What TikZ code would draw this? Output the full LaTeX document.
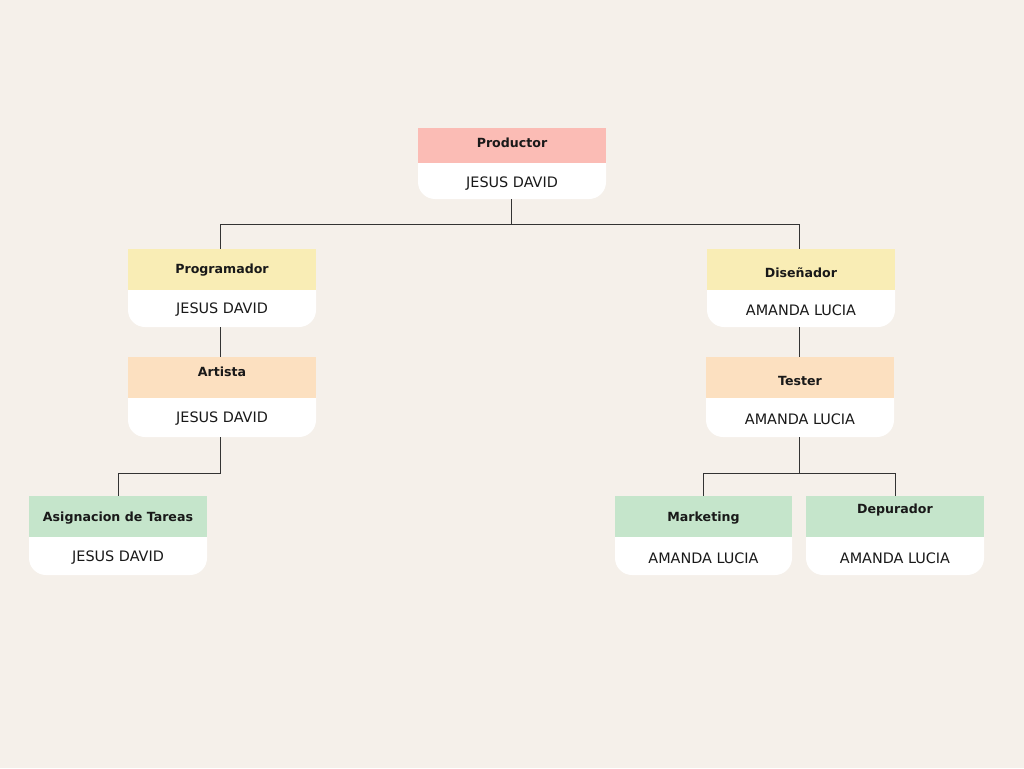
\documentclass[tikz,border=0pt]{standalone}
\usepackage{fontspec}
\setmainfont{DejaVu Sans}
\usetikzlibrary{calc}
\definecolor{bg}{HTML}{F5F0EA}
\definecolor{cpink}{HTML}{FBBCB5}
\definecolor{cyellow}{HTML}{F9EDB5}
\definecolor{corange}{HTML}{FCE0C0}
\definecolor{cgreen}{HTML}{C5E5CB}
\definecolor{cline}{HTML}{333333}
\tikzset{
  frame/.style={draw=none, inner sep=0pt, outer sep=0pt},
  tt/.style={inner sep=0pt, font=\fontsize{12.6}{16}\selectfont\bfseries, text=black!90},
  nm/.style={inner sep=0pt, font=\fontsize{14.4}{16}\selectfont, text=black!90},
  conn/.style={draw=cline, line width=1pt},
}
\newcommand\orgbox[9]{%
  \node[frame, minimum width={#3-#2}, minimum height={#6-#4}, anchor=north west] (#1) at (#2,#4) {};
  \fill[white, rounded corners=17pt] (#2,#5-20) rectangle (#3,#6);
  \fill[#7] (#2,#4) rectangle (#3,#5);
  \node[tt] (#1T) at ({(#2+#3)/2},#8+1.5) {#9};
}
\begin{document}
\begin{tikzpicture}[x=1pt,y=-1pt]
\useasboundingbox (0,0) rectangle (1024,768);
\fill[bg] (0,0) rectangle (1024,768);
\orgbox{prod}{418}{606}{128}{163}{199}{cpink}{141}{Productor}
\node[nm] (prodN) at (512,184) {JESUS DAVID};
\orgbox{prog}{128}{316}{249}{290}{327}{cyellow}{269}{Programador}
\node[nm] (progN) at (222,310) {JESUS DAVID};
\orgbox{art}{128}{316}{357}{398}{437}{corange}{370}{Artista}
\node[nm] (artN) at (222,419) {JESUS DAVID};
\orgbox{asig}{29}{207}{496}{537}{575}{cgreen}{517}{Asignacion de Tareas}
\node[nm] (asigN) at (118,558) {JESUS DAVID};
\orgbox{dis}{707}{895}{249}{290}{327}{cyellow}{271}{Diseñador}
\node[nm] (disN) at (801,310) {AMANDA LUCIA};
\orgbox{tes}{706}{894}{357}{398}{437}{corange}{379}{Tester}
\node[nm] (tesN) at (800,419) {AMANDA LUCIA};
\orgbox{mkt}{615}{792}{496}{537}{575}{cgreen}{517}{Marketing}
\node[nm] (mktN) at (703.5,558) {AMANDA LUCIA};
\orgbox{dep}{806}{984}{496}{537}{575}{cgreen}{509}{Depurador}
\node[nm] (depN) at (895,558) {AMANDA LUCIA};
% connectors
\coordinate (j1) at (511,224);
\coordinate (j2) at (220,473);
\coordinate (j3) at (799,473);
\draw[conn] ([xshift=-1pt]prod.south) -- (j1) -| ([xshift=-2pt]prog.north);
\draw[conn] (j1) -| ([xshift=-2pt]dis.north);
\draw[conn] ([xshift=-2pt]prog.south) -- ([xshift=-2pt]art.north);
\draw[conn] ([xshift=-2pt]dis.south) -- ([xshift=-1pt]tes.north);
\draw[conn] ([xshift=-2pt]art.south) -- (j2) -| (asig.north);
\draw[conn] ([xshift=-1pt]tes.south) -- (j3) -| ([xshift=-0.5pt]mkt.north);
\draw[conn] (j3) -| (dep.north);
\end{tikzpicture}
\end{document}
